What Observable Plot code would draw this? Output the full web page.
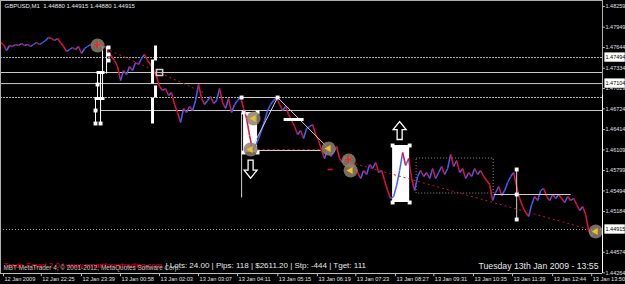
<!DOCTYPE html>
<html><head><meta charset="utf-8">
<script src="https://cdn.jsdelivr.net/npm/d3@7"></script>
<script src="https://cdn.jsdelivr.net/npm/@observablehq/plot@0.6"></script>
<style>
html,body{margin:0;padding:0;background:#000;}
#chart{width:625px;height:284px;overflow:hidden;}
</style></head><body><div id="chart"></div>
<script>
// ---------- data ----------
const symbol = "GBPUSD,M1";
const quote = ["1.44880", "1.44915", "1.44880", "1.44915"];
const barStep = 5; // one sample every 5 one-minute bars
const closes = [
1.47720,1.47690,1.47600,1.47675,1.47660,1.47690,1.47675,1.47705,1.47675,1.47690,
1.47660,1.47690,1.47720,1.47690,1.47720,1.47750,1.47795,1.47780,1.47750,1.47780,
1.47720,1.47660,1.47585,1.47615,1.47645,1.47615,1.47660,1.47555,1.47630,1.47660,
1.47690,1.47675,1.47705,1.47690,1.47645,1.47660,1.47570,1.47510,1.47450,1.47360,
1.47150,1.47300,1.47240,1.47360,1.47300,1.47420,1.47390,1.47480,1.47540,1.47450,
1.47390,1.47300,1.47210,1.47060,1.47000,1.47030,1.46925,1.46970,1.46790,1.46670,
1.46520,1.46730,1.46670,1.46760,1.46700,1.46850,1.47090,1.46880,1.46790,1.46850,
1.46910,1.46805,1.46850,1.47030,1.46820,1.46730,1.46880,1.46670,1.46790,1.46850,
1.46910,1.46730,1.46580,1.46325,1.46100,1.46175,1.46280,1.46400,1.46550,1.46700,
1.46790,1.46850,1.46895,1.46790,1.46700,1.46760,1.46640,1.46550,1.46460,1.46340,
1.46400,1.46280,1.46430,1.46460,1.46490,1.46340,1.46250,1.46100,1.45980,1.46130,
1.46010,1.46070,1.46160,1.45980,1.45920,1.46010,1.45920,1.45830,1.45890,1.45770,
1.45680,1.45800,1.45740,1.45890,1.45830,1.45920,1.45770,1.45800,1.45650,1.45500,
1.45380,1.45410,1.45575,1.45800,1.46070,1.45875,1.45980,1.45680,1.45500,1.45710,
1.45800,1.45710,1.45770,1.45680,1.45830,1.45680,1.45770,1.45860,1.45740,1.45830,
1.46040,1.45860,1.45950,1.45770,1.45830,1.45680,1.45770,1.45710,1.45830,1.45740,
1.45800,1.45710,1.45650,1.45590,1.45350,1.45470,1.45560,1.45425,1.45500,1.45620,
1.45710,1.45770,1.45560,1.45380,1.45260,1.45170,1.45110,1.45290,1.45410,1.45350,
1.45500,1.45530,1.45410,1.45350,1.45440,1.45380,1.45440,1.45380,1.45320,1.45410,
1.45350,1.45380,1.45290,1.45200,1.45260,1.45140,1.44900,1.44810,1.44930,1.44885
];
const timeLabels = ["12 Jan 2009","12 Jan 22:25","12 Jan 23:39","13 Jan 00:58","13 Jan 02:03",
  "13 Jan 03:07","13 Jan 04:11","13 Jan 05:15","13 Jan 06:19","13 Jan 07:23","13 Jan 08:27",
  "13 Jan 09:31","13 Jan 10:35","13 Jan 11:39","13 Jan 12:44","13 Jan 13:50"];
const timeLabelBars = [5,68,135,200,265,330,395,462,528,592,658,722,788,853,920,985];
const priceTickLabels = ["1.48259","1.47949","1.47644","1.47334","1.47029","1.46724","1.46414",
  "1.46109","1.45799","1.45494","1.45184","1.44574","1.44264"];
const markedPriceLabels = ["1.47494","1.47104","1.44915"];
const bidPrice = 1.44915;
// horizontal levels
const solidLevels = [1.47270, 1.47104];
const dottedLevels = [1.47494, 1.46895];
const partialLevels = [{price: 1.46700, fromBar: 167}];
// drawn objects, [bar, price] pairs
const thinVerticals = [[170,1.4766,1.4688],[176.7,1.4766,1.47255],[161.7,1.4727,1.4688],[166.7,1.4727,1.46505],[158.3,1.4688,1.46505]];
const shortBars = [[160,173.3,1.4727],[156.7,173.3,1.4688],[471.7,505,1.46565]];
const thickVerticals = [[258.3,1.47675,1.4745],[253.3,1.47465,1.47105],[258.3,1.47075,1.46895],[253.3,1.46895,1.46505]];
const handles = [[180,1.47645],[180,1.4754],[180,1.4745],[161.7,1.4709],[158.3,1.467],[158.3,1.46505],[166.7,1.46505],
  [401.7,1.46895],[461.7,1.46895],[860,1.45815],[860,1.4544],[860,1.45065],
  [405,1.4667],[428.3,1.4667],[405,1.4607],[428.3,1.4607],[653.3,1.46175],[681.7,1.46175],[653.3,1.4532],[681.7,1.4532]];
const boxHandles = [[265,1.4727]];
const trendLines = [[401.7,1.46895,461.7,1.46895],[416.7,1.461,461.7,1.46895],[461.7,1.46895,546.7,1.4613],
  [420,1.461,533.3,1.461],[401.7,1.4667,401.7,1.45395],[821.7,1.4544,950,1.4544],[860,1.45815,860,1.45065]];
const redDotted = [[175,1.4763,341.7,1.46955],[428.3,1.46115,536.7,1.46115],[583.3,1.4592,993.3,1.44885]];
const redDash = [[545,553.3,1.45815]];
const filledBoxes = [[405,428.3,1.4667,1.4607],[653.3,681.7,1.46175,1.4532]];
const dottedBoxes = [[693.3,821.7,1.4598,1.45455]];
const arrowsDown = [[416.7,1.4582]];
const arrowsUp = [[665,1.4640]];
const crossMarks = [[161.7,1.47675],[580,1.4595]];
const tradeMarks = [[421.7,1.4658],[416.7,1.46115],[546.7,1.4613],[583.3,1.458],[991.7,1.44885]];
const infoRed = "Trade Smart 2.0 | www.smartforextrading.com";
const infoWhite = "| Lots: 24.00 | Pips: 118 | $2611.20 | Stp: -444 | Tget: 111";
const copyright = "MBT MetaTrader 4, \u00a9 2001-2012, MetaQuotes Software Corp.";
const stamp = "Tuesday 13th Jan 2009 - 13:55";

// ---------- derived tables ----------
const segs = closes.slice(1).map((p, i) => ({x1: i*barStep, y1: closes[i], x2: (i+1)*barStep, y2: p, up: p > closes[i]}));
const xMax = 1003, yMin = 1.44255, yMax = 1.4835;
const F = "Liberation Sans, Arial, sans-serif";
const toL = a => ({x1: a[0], y1: a[1], x2: a[2], y2: a[3]});

// hollow block arrow symbols (style only)
function arrowSymbol(dir) {
  return {draw(ctx, size) {
    const r = Math.sqrt(size / Math.PI);
    const s = dir;
    ctx.moveTo(-0.28*r, -s*r);
    ctx.lineTo(0.28*r, -s*r);
    ctx.lineTo(0.28*r, s*0.1*r);
    ctx.lineTo(0.72*r, s*0.1*r);
    ctx.lineTo(0, s*r);
    ctx.lineTo(-0.72*r, s*0.1*r);
    ctx.lineTo(-0.28*r, s*0.1*r);
    ctx.closePath();
  }};
}

const chart = Plot.plot({
  width: 625, height: 284,
  marginLeft: 0, marginRight: 23, marginTop: 0, marginBottom: 11,
  style: {background: "#000", overflow: "visible"},
  x: {domain: [0, xMax], axis: null},
  y: {domain: [yMin, yMax], axis: null},
  marks: [
    Plot.ruleY(solidLevels, {stroke: "#c8c8c8", strokeWidth: 1}),
    Plot.ruleY(dottedLevels, {stroke: "#b0b0b0", strokeWidth: 1, strokeDasharray: "2,1"}),
    Plot.link(partialLevels, {x1: "fromBar", x2: () => xMax, y1: "price", y2: "price", stroke: "#c8c8c8"}),
    Plot.ruleY([bidPrice], {stroke: "#a0a0a0", strokeDasharray: "1,2"}),
    Plot.rect(filledBoxes, {x1: d => d[0], x2: d => d[1], y1: d => d[2], y2: d => d[3], fill: "#ffffff"}),
    Plot.rect(dottedBoxes, {x1: d => d[0], x2: d => d[1], y1: d => d[2], y2: d => d[3], fill: "none", stroke: "#909090", strokeDasharray: "1,2"}),
    Plot.link(segs, {x1: "x1", y1: "y1", x2: "x2", y2: "y2", stroke: d => d.up ? "#4060ff" : "#e0103c", strokeWidth: 1.5}),
    Plot.link(trendLines.map(toL), {x1: "x1", y1: "y1", x2: "x2", y2: "y2", stroke: "#d0d0d0", strokeWidth: 1}),
    Plot.link(redDotted.map(toL), {x1: "x1", y1: "y1", x2: "x2", y2: "y2", stroke: "#c8102e", strokeWidth: 1, strokeDasharray: "2,3"}),
    Plot.link(redDash, {x1: d => d[0], x2: d => d[1], y1: d => d[2], y2: d => d[2], stroke: "#e0103c", strokeWidth: 1.5}),
    Plot.link(thinVerticals, {x1: d => d[0], x2: d => d[0], y1: d => d[1], y2: d => d[2], stroke: "#ffffff", strokeWidth: 1}),
    Plot.link(thickVerticals, {x1: d => d[0], x2: d => d[0], y1: d => d[1], y2: d => d[2], stroke: "#ffffff", strokeWidth: 3}),
    Plot.link(shortBars, {x1: d => d[0], x2: d => d[1], y1: d => d[2], y2: d => d[2], stroke: "#ffffff", strokeWidth: 3}),
    Plot.dot(handles, {x: d => d[0], y: d => d[1], symbol: "square", r: 2.2, fill: "#ffffff", stroke: "none"}),
    Plot.dot(boxHandles, {x: d => d[0], y: d => d[1], symbol: "square", r: 3.5, fill: "none", stroke: "#d0d0d0"}),
    Plot.dot(arrowsDown, {x: d => d[0], y: d => d[1], symbol: arrowSymbol(1), r: 9, fill: "#000", stroke: "#ffffff", strokeWidth: 1.3}),
    Plot.dot(arrowsUp, {x: d => d[0], y: d => d[1], symbol: arrowSymbol(-1), r: 9, fill: "#000", stroke: "#ffffff", strokeWidth: 1.3}),
    Plot.dot(crossMarks.concat(tradeMarks), {x: d => d[0], y: d => d[1], r: 7, fill: "#8c8070", fillOpacity: 0.85, stroke: "none"}),
    Plot.text(crossMarks, {x: d => d[0], y: d => d[1], text: () => "+", fill: "#ff2020", fontSize: 12, fontWeight: "bold", fontFamily: F}),
    Plot.dot(tradeMarks, {x: d => d[0], y: d => d[1], symbol: "triangle", rotate: -90, r: 2.6, fill: "#f0c020", stroke: "none"}),
    // frame
    Plot.ruleX([0], {stroke: "#b0b0b0"}),
    Plot.ruleY([yMax], {stroke: "#b0b0b0"}),
    Plot.ruleX([xMax], {stroke: "#b0b0b0"}),
    Plot.ruleX([xMax], {y1: 1.4693, y2: yMin, stroke: "#ffffff"}),
    Plot.ruleY([yMin], {stroke: "#c0c0c0"}),
    // right price axis
    Plot.link(priceTickLabels, {x1: xMax, x2: xMax + 4, y1: d => +d, y2: d => +d, stroke: "#c0c0c0"}),
    Plot.text(priceTickLabels, {x: xMax, y: d => +d, dx: 3, textAnchor: "start", fill: "#e0e0e0", fontSize: 5.5, fontFamily: F}),
    Plot.rect(markedPriceLabels, {x1: xMax + 4, x2: xMax + 38, y1: d => +d - 0.0007, y2: d => +d + 0.0007, fill: "#ffffff"}),
    Plot.text(markedPriceLabels, {x: xMax, y: d => +d, dx: 3, textAnchor: "start", fill: "#000000", fontSize: 5.5, fontFamily: F}),
    // bottom time axis
    Plot.link(timeLabelBars, {x1: d => d, x2: d => d, y1: yMin, y2: yMin - 0.0004, stroke: "#c0c0c0"}),
    Plot.text(timeLabels, {x: (d, i) => timeLabelBars[i], y: () => yMin, dx: 1, dy: 6, textAnchor: "start", fill: "#e0e0e0", fontSize: 5.6, fontFamily: F}),
    // texts
    Plot.text([`${symbol}\u00a0 ${quote.join(" ")}`], {frameAnchor: "top-left", dx: 4, dy: 3, lineAnchor: "top", textAnchor: "start", fill: "#e8e8e8", fontSize: 6, fontFamily: F}),
    Plot.text([infoRed], {frameAnchor: "bottom-left", dx: 3, dy: -8, lineAnchor: "middle", textAnchor: "start", fill: "#e00020", fontSize: 7.8, fontFamily: F}),
    Plot.text([copyright], {frameAnchor: "bottom-left", dx: 3, dy: -5.5, lineAnchor: "middle", textAnchor: "start", fill: "#c0c0c0", fontSize: 6.4, fontFamily: F}),
    Plot.text([infoWhite], {frameAnchor: "bottom-left", dx: 165, dy: -8, lineAnchor: "middle", textAnchor: "start", fill: "#e8e8e8", fontSize: 8, fontFamily: F}),
    Plot.text([stamp], {frameAnchor: "bottom-right", dx: -4, dy: -7, lineAnchor: "middle", textAnchor: "end", fill: "#e8e8e8", fontSize: 8.7, fontFamily: F})
  ]
});
document.getElementById("chart").appendChild(chart);
</script></body></html>
